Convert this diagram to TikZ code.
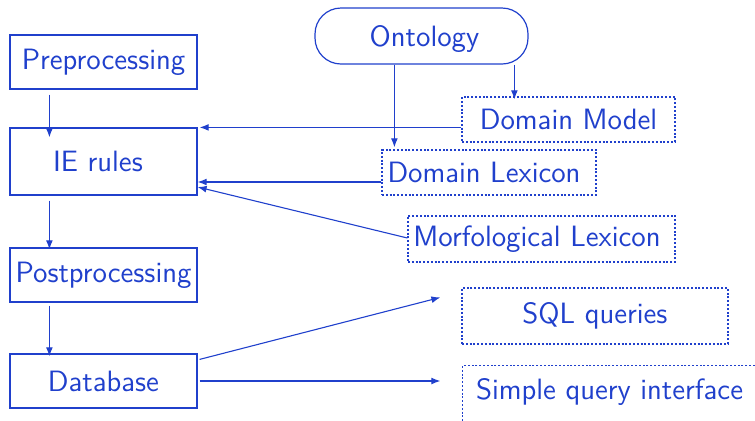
\documentclass[tikz,border=0pt]{standalone}
\usetikzlibrary{arrows.meta,calc}
\definecolor{ink}{RGB}{32,64,204}
% shift a label sideways inside its box: #1 is twice the wanted shift
\newcommand{\nudge}[2]{\hspace*{#1}#2}
\begin{document}
\begin{tikzpicture}[x=0.5pt,y=-0.5pt,
  every node/.style={font=\fontsize{14.7}{17}\selectfont\sffamily, text=ink, inner sep=0pt},
  stage/.style={draw=ink, line width=0.6pt, minimum width=93.5pt},
  source/.style={draw=ink, line width=0.6pt, dash pattern=on 1pt off 0.9pt},
  arr/.style={draw=ink, line width=0.55pt, -{Latex[length=4.5pt,width=3.4pt]}}
]
\useasboundingbox (0,0) rectangle (755,420);

% processing pipeline
\node[stage, minimum height=27pt] (pre)  at (103.5,62)  {Preprocessing};
\node[stage, minimum height=33.5pt] (ie) at (103.5,161.5) {\nudge{-5.5pt}{IE rules}};
\node[stage, minimum height=27pt] (post) at (103.5,275) {Postprocessing};
\node[stage, minimum height=27pt] (db)   at (103.5,381) {Database};

% knowledge sources
\node[draw=ink, line width=0.6pt, rounded corners=13pt,
      minimum width=106.5pt, minimum height=28pt] (ont) at (421.5,36)
      {\raisebox{-1.5pt}[\height][\depth]{Ontology}\hspace*{-3pt}};
\node[source, minimum width=106.5pt, minimum height=22.5pt] (dm) at (568.5,119.5) {Domain Model};
\node[source, minimum width=107pt, minimum height=22.5pt] (dl) at (489,172.5) {\nudge{-5pt}{Domain Lexicon}};
\node[source, minimum width=133.5pt, minimum height=23pt] (ml) at (541.5,239) {\nudge{-4.5pt}{Morfological Lexicon}};

% outputs
\node[source, minimum width=133pt, minimum height=28pt] (sql) at (595,316) {SQL queries};
\node[source, dash phase=0.5pt, minimum width=147pt, minimum height=34pt, anchor=north west] (sqi) at (462,365)
      {\raisebox{4pt}[\height][\depth]{Simple query interface}};

% pipeline arrows
\coordinate (px) at ($(pre.south west)+(40,0)$);
\draw[arr] ($(pre.south -| px)+(0,5)$) -- ($(ie.north -| px)+(0,10)$);
\draw[arr] ($(ie.south -| px)+(0,5)$) -- ($(post.north -| px)+(0,2)$);
\draw[arr] ($(post.south -| px)+(0,3)$) -- ($(db.north -| px)+(0,3)$);

% ontology feeds
\coordinate (dlx) at ($(dl.north west)+(13,0)$);
\coordinate (dmx) at ($(dm.north west)+(53,0)$);
\draw[arr] (ont.south -| dlx) -- ($(dl.north -| dlx)+(0,-2)$);
\draw[arr] (ont.south -| dmx) -- ($(dm.north -| dmx)+(0,3)$);

% sources into IE rules
\draw[arr] (dm.west |- ie.north east) -- ($(ie.north east)+(2,0)$);
\coordinate (dly) at ($(dl.west)+(0,9.5)$);
\draw[arr] (dly) -- (ie.east |- dly);
\draw[arr] ($(ml.west)+(0,-1)$) -- ($(ie.east)+(0,25.5)$);

% database outputs
\coordinate (sqlin) at ($(sql.north west)+(-21,10)$);
\draw[arr] ($(db.north east)+(2,6)$) -- (sqlin);
\draw[arr] ($(db.east)+(2,0)$) -- (db.east -| sqlin);
\end{tikzpicture}
\end{document}
